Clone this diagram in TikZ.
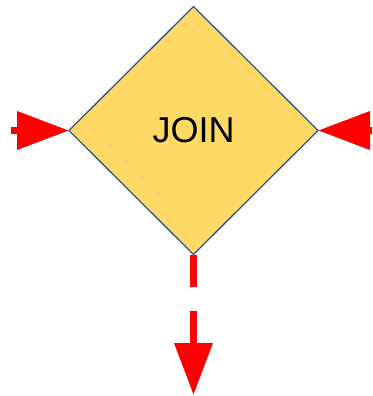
\documentclass[tikz,border=0pt]{standalone}
\usepackage{fontspec}
\setmainfont{Liberation Sans}
\usetikzlibrary{shapes.geometric,arrows.meta}
\definecolor{joinfill}{HTML}{FFD966}
\definecolor{joinborder}{HTML}{2F5597}
\begin{document}
\begin{tikzpicture}[x=1pt,y=-1pt,
  joinbox/.style={diamond,draw=joinborder,line width=1.3pt,fill=joinfill,
    minimum width=249pt,minimum height=248pt,inner sep=0pt,outer sep=0pt,
    font=\fontsize{36}{40}\selectfont},
  flow/.style={draw=red,line width=7pt,dash pattern=on 32pt off 24pt,
    -{Triangle[length=52pt,width=37pt,fill=red,color=red]}}]
\useasboundingbox (0,0) rectangle (372,396);
\clip (0,0) rectangle (372,396);
\node[joinbox] (join) at (193.5,130.5) {JOIN};
\coordinate (lin) at (11,130.5);
\coordinate (rin) at (380,130.5);
\coordinate (bout) at (193.5,395);
\draw[flow] (lin) -- (join.west);
\draw[flow] (rin) -- (join.east);
\draw[flow] (join.south) -- (bout);
\end{tikzpicture}
\end{document}
